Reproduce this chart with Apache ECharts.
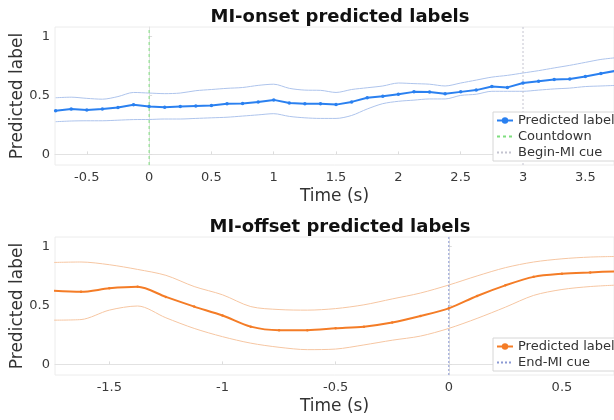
<!DOCTYPE html>
<html>
<head>
<meta charset="utf-8">
<script src="https://cdn.jsdelivr.net/npm/echarts@6/dist/echarts.min.js"></script>
<style>
  html, body { margin: 0; padding: 0; background: #fff; }
  #main { width: 614px; height: 420px; }
</style>
</head>
<body>
<div id="main"></div>
<script>
// MI-onset panel
var tOnset = [-0.75, -0.625, -0.5, -0.375, -0.25, -0.125, 0, 0.125, 0.25, 0.375, 0.5, 0.625, 0.75, 0.875,
  1, 1.125, 1.25, 1.375, 1.5, 1.625, 1.75, 1.875, 2, 2.125, 2.25, 2.375, 2.5, 2.625, 2.75, 2.875,
  3, 3.125, 3.25, 3.375, 3.5, 3.625, 3.75];
var onsetPred = [0.37, 0.385, 0.377, 0.385, 0.398, 0.42, 0.405, 0.40, 0.405, 0.41, 0.415, 0.43, 0.432, 0.445,
  0.462, 0.435, 0.43, 0.43, 0.422, 0.445, 0.48, 0.493, 0.51, 0.53, 0.528, 0.515, 0.53, 0.545, 0.575, 0.568,
  0.605, 0.62, 0.634, 0.64, 0.66, 0.685, 0.71];
var onsetUpper = [0.48, 0.485, 0.475, 0.468, 0.49, 0.525, 0.52, 0.515, 0.52, 0.54, 0.55, 0.56, 0.567, 0.585,
  0.595, 0.56, 0.545, 0.543, 0.525, 0.55, 0.565, 0.58, 0.605, 0.6, 0.595, 0.58, 0.605, 0.63, 0.655, 0.67,
  0.69, 0.71, 0.733, 0.755, 0.78, 0.805, 0.82];
var onsetLower = [0.277, 0.283, 0.285, 0.285, 0.29, 0.295, 0.296, 0.3, 0.3, 0.305, 0.31, 0.315, 0.325, 0.335,
  0.345, 0.322, 0.31, 0.305, 0.305, 0.33, 0.385, 0.43, 0.45, 0.46, 0.47, 0.47, 0.5, 0.51, 0.535, 0.535,
  0.535, 0.545, 0.555, 0.562, 0.575, 0.58, 0.585];
var onsetTicks = [-0.5, 0, 0.5, 1, 1.5, 2, 2.5, 3, 3.5];
var countdownT = 0;
var beginCueT = 3;

// MI-offset panel
var tOffset = [-1.75, -1.625, -1.5, -1.375, -1.25, -1.125, -1, -0.875, -0.75, -0.625, -0.5, -0.375, -0.25,
  -0.125, 0, 0.125, 0.25, 0.375, 0.5, 0.625, 0.75];
var offsetPred = [0.625, 0.615, 0.645, 0.658, 0.572, 0.49, 0.415, 0.32, 0.29, 0.29, 0.306, 0.32, 0.355,
  0.41, 0.475, 0.58, 0.67, 0.742, 0.768, 0.78, 0.79];
var offsetUpper = [0.864, 0.868, 0.845, 0.805, 0.755, 0.66, 0.59, 0.49, 0.465, 0.46, 0.473, 0.505, 0.555,
  0.605, 0.673, 0.75, 0.82, 0.868, 0.895, 0.91, 0.915];
var offsetLower = [0.375, 0.38, 0.46, 0.495, 0.395, 0.305, 0.235, 0.18, 0.145, 0.125, 0.13, 0.165, 0.205,
  0.24, 0.305, 0.39, 0.485, 0.585, 0.635, 0.66, 0.673];
var offsetTicks = [-1.5, -1, -0.5, 0, 0.5];
var endCueT = 0;

var yTicks = [0, 0.5, 1];
var yMin = -0.09, yMax = 1.08;

var font = 'DejaVu Sans';
var blue = '#2a80f0', blueLight = '#aec4ec';
var orange = '#f47c26', orangeLight = '#f6c6a2';

function pairs(t, v) {
  return t.map(function (x, i) { return [x, v[i]]; });
}

function xAx(gi, min, max, ticks) {
  return {
    type: 'value', gridIndex: gi, min: min, max: max,
    name: 'Time (s)', nameLocation: 'middle', nameGap: 23,
    nameTextStyle: { fontFamily: font, fontSize: 17, color: '#333' },
    axisLine: { show: true, lineStyle: { color: '#e2e2e2' } },
    axisTick: { show: true, inside: true, length: 3, customValues: ticks, lineStyle: { color: '#ddd' } },
    axisLabel: { customValues: ticks, margin: 6, fontFamily: font, fontSize: 13, color: '#3a3a3a' },
    splitLine: { show: false }
  };
}

function yAx(gi) {
  return {
    type: 'value', gridIndex: gi, min: yMin, max: yMax,
    name: 'Predicted label', nameLocation: 'middle', nameGap: 29, nameMoveOverlap: false,
    nameTextStyle: { fontFamily: font, fontSize: 17, color: '#333' },
    axisLine: { show: true, lineStyle: { color: '#e2e2e2' } },
    axisTick: { show: true, inside: true, length: 3, customValues: yTicks, lineStyle: { color: '#ddd' } },
    axisLabel: { customValues: yTicks, margin: 5, fontFamily: font, fontSize: 13, color: '#3a3a3a' },
    splitLine: { show: false }
  };
}

function band(name, gi, data, color) {
  return {
    name: name, type: 'line', xAxisIndex: gi, yAxisIndex: gi, data: data,
    showSymbol: false, smooth: 0.3, silent: true,
    lineStyle: { color: color, width: 1 }, z: 2
  };
}

var legendBase = {
  orient: 'vertical', left: 493,
  itemWidth: 16, itemHeight: 8, itemGap: 3, padding: [2, 4, 2, 3],
  backgroundColor: '#fff', borderColor: '#d6d6d6', borderWidth: 1, borderRadius: 0,
  textStyle: { fontFamily: font, fontSize: 13, color: '#333' }
};

var myChart = echarts.init(document.getElementById('main'));
var option = {
  animation: false,
  title: [
    { text: 'MI-onset predicted labels', left: 335, textAlign: 'center', top: 3,
      textStyle: { fontFamily: font, fontSize: 18, fontWeight: 'bold', color: '#111' } },
    { text: 'MI-offset predicted labels', left: 335, textAlign: 'center', top: 213,
      textStyle: { fontFamily: font, fontSize: 18, fontWeight: 'bold', color: '#111' } }
  ],
  grid: [
    { left: 55, right: 0, top: 27, height: 138, show: true, borderColor: '#ececec', borderWidth: 1,
      outerBoundsMode: 'none' },
    { left: 55, right: 0, top: 237, height: 138, show: true, borderColor: '#ececec', borderWidth: 1,
      outerBoundsMode: 'none' }
  ],
  xAxis: [xAx(0, -0.755, 3.73, onsetTicks), xAx(1, -1.74, 0.73, offsetTicks)],
  yAxis: [yAx(0), yAx(1)],
  legend: [
    Object.assign({}, legendBase, {
      top: 112,
      data: [
        'Predicted label',
        { name: 'Countdown', itemStyle: { opacity: 0 } },
        { name: 'Begin-MI cue', itemStyle: { opacity: 0 } }
      ]
    }),
    Object.assign({}, legendBase, {
      top: 338,
      data: ['Predicted label ', { name: 'End-MI cue', itemStyle: { opacity: 0 } }],
      formatter: function (n) { return n.trim(); }
    })
  ],
  series: [
    band('onsetUpper', 0, pairs(tOnset, onsetUpper), blueLight),
    band('onsetLower', 0, pairs(tOnset, onsetLower), blueLight),
    {
      name: 'Countdown', type: 'line', xAxisIndex: 0, yAxisIndex: 0,
      data: [[countdownT, yMin], [countdownT, yMax]], showSymbol: false, symbol: 'none',
      lineStyle: { color: '#7fde7f', width: 1, type: [3, 3] }, itemStyle: { color: '#7fde7f' }, z: 3
    },
    {
      name: 'Begin-MI cue', type: 'line', xAxisIndex: 0, yAxisIndex: 0,
      data: [[beginCueT, yMin], [beginCueT, yMax]], showSymbol: false, symbol: 'none',
      lineStyle: { color: '#c4c4d0', width: 1, type: [2, 2] }, itemStyle: { color: '#c4c4d0' }, z: 3
    },
    {
      name: 'Predicted label', type: 'line', xAxisIndex: 0, yAxisIndex: 0,
      data: pairs(tOnset, onsetPred), symbol: 'circle', symbolSize: 3.5,
      lineStyle: { color: blue, width: 2 }, itemStyle: { color: blue }, z: 5
    },
    band('offsetUpper', 1, pairs(tOffset, offsetUpper), orangeLight),
    band('offsetLower', 1, pairs(tOffset, offsetLower), orangeLight),
    {
      name: 'End-MI cue', type: 'line', xAxisIndex: 1, yAxisIndex: 1,
      data: [[endCueT, yMin], [endCueT, yMax]], showSymbol: false, symbol: 'none',
      lineStyle: { color: '#8c9ad4', width: 1, type: [2, 2] }, itemStyle: { color: '#8c9ad4' }, z: 3
    },
    {
      name: 'Predicted label ', type: 'line', xAxisIndex: 1, yAxisIndex: 1,
      data: pairs(tOffset, offsetPred), symbol: 'circle', symbolSize: 2.5, smooth: 0.3,
      lineStyle: { color: orange, width: 2 }, itemStyle: { color: orange }, z: 5
    }
  ]
};
myChart.setOption(option);
</script>
</body>
</html>
